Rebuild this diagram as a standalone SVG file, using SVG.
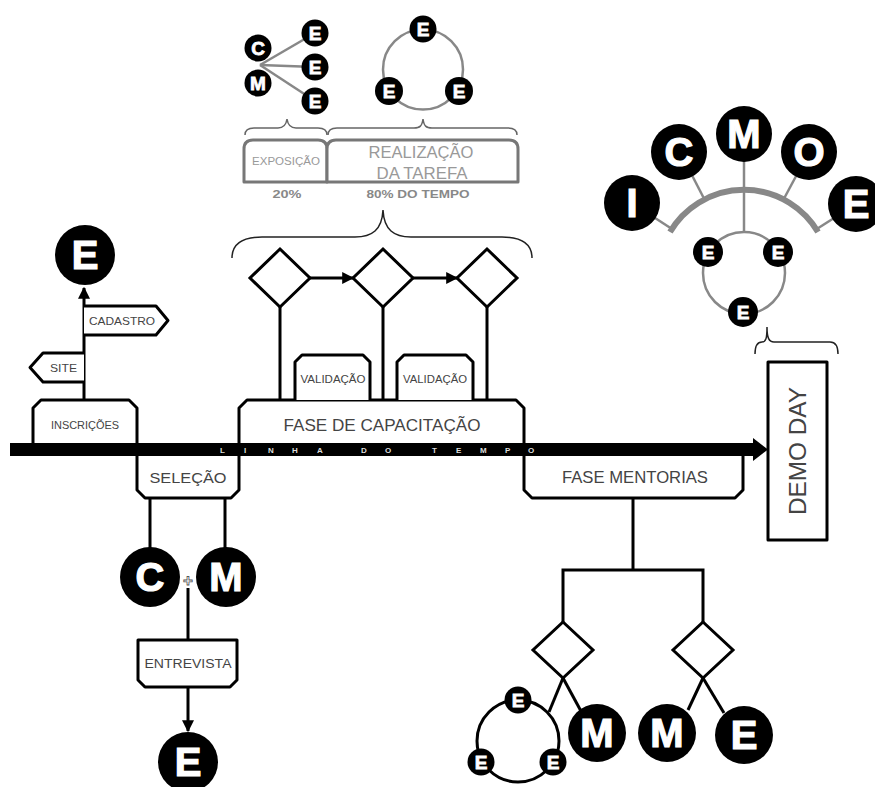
<svg xmlns="http://www.w3.org/2000/svg" width="875" height="787" viewBox="0 0 875 787">
<style>
.ln{stroke:#000;stroke-width:3;fill:none}
.gl{stroke:#888;stroke-width:2.5;fill:none}
.br{stroke:#222;stroke-width:1.5;fill:none}
.gbr{stroke:#666;stroke-width:1.5;fill:none}
.box{fill:#fff;stroke:#000;stroke-width:3;stroke-linejoin:round}
.gbox{fill:#fff;stroke:#777;stroke-width:3;stroke-linejoin:round}
.dia{fill:#fff;stroke:#000;stroke-width:3}
.bc{fill:#000}
.lt{fill:#fff;stroke:#fff;stroke-width:1.2;font-family:"Liberation Sans",Arial,sans-serif;font-weight:bold;text-anchor:middle}
.big{font-size:40px}
.sm{font-size:19px;stroke-width:0.8}
.bt{fill:#444;font-family:"Liberation Sans",Arial,sans-serif;text-anchor:middle}
.gt{fill:#999;font-family:"Liberation Sans",Arial,sans-serif;text-anchor:middle}
.pt{fill:#888;font-family:"Liberation Sans",Arial,sans-serif;font-weight:bold;text-anchor:middle}
.tl{fill:#ddd;font-family:"Liberation Sans",Arial,sans-serif;font-weight:bold;font-size:8px}
</style>
<defs>
<marker id="ah" viewBox="0 0 10 10" refX="9" refY="5" markerWidth="4" markerHeight="4" markerUnits="strokeWidth" orient="auto">
<path d="M0,0 L10,5 L0,10 Z" fill="#000"/>
</marker>
</defs>
<rect width="875" height="787" fill="#fff"/>

<g id="connectors">
<line class="gl" x1="260" y1="65" x2="315" y2="33" stroke-width="1.5"/>
<line class="gl" x1="260" y1="65" x2="315" y2="67" stroke-width="1.5"/>
<line class="gl" x1="260" y1="65" x2="315" y2="101" stroke-width="1.5"/>
<line class="gl" x1="672" y1="229" x2="632" y2="203" stroke-width="3"/>
<line class="gl" x1="704.5" y1="199.5" x2="680" y2="152" stroke-width="3"/>
<line class="gl" x1="744" y1="232" x2="744" y2="134" stroke-width="3"/>
<line class="gl" x1="783.5" y1="199.5" x2="809" y2="152" stroke-width="3"/>
<line class="gl" x1="816" y1="229.5" x2="856" y2="204" stroke-width="3"/>
<path d="M670,232 A86,86 0 0 1 818,232" stroke="#888" stroke-width="6" fill="none"/>
<line class="ln" x1="84" y1="400" x2="84" y2="288" marker-end="url(#ah)"/>
<line class="ln" x1="150" y1="498" x2="150" y2="550"/>
<line class="ln" x1="225" y1="498" x2="225" y2="550"/>
<line class="ln" x1="188" y1="588" x2="188" y2="640"/>
<line class="ln" x1="188" y1="687" x2="188" y2="731" marker-end="url(#ah)"/>
<line class="ln" x1="280" y1="307" x2="280" y2="400"/>
<line class="ln" x1="383" y1="307" x2="383" y2="400"/>
<line class="ln" x1="487" y1="307" x2="487" y2="400"/>
<line class="ln" x1="310" y1="278" x2="353" y2="278" marker-end="url(#ah)"/>
<line class="ln" x1="413" y1="278" x2="457" y2="278" marker-end="url(#ah)"/>
<polyline class="ln" points="633,498 633,570"/>
<polyline class="ln" points="563,622 563,570 703,570 703,622"/>
<line class="ln" x1="563" y1="678" x2="549" y2="712"/>
<line class="ln" x1="563" y1="678" x2="582" y2="713"/>
<line class="ln" x1="703" y1="678" x2="688" y2="710"/>
<line class="ln" x1="703" y1="678" x2="724" y2="713"/>
<path class="br" d="M232,258 C232,244 242,237 262,237 H355 C372,237 382,230 383,210 C384,230 394,237 411,237 H502 C522,237 532,244 532,258"/>
<path class="gbr" d="M245,135 C245,130 248,128 254,128 H278 C283,128 286,126 287,119 C288,126 291,128 296,128 H318 C323,128 327,130 327,135"/>
<path class="gbr" d="M328,135 C328,130 331,128 337,128 H414 C420,128 422,126 423,119 C424,126 426,128 432,128 H508 C514,128 517,130 517,135"/>
<path class="br" d="M755,354 C755,346 758,342 762,342 C766,342 767,338 767,327 C767,338 769,342 774,342 H830 C835,342 838,346 838,354"/>
</g>

<g id="inscricoes">
<path class="box" d="M33,443 V408 L41,400 H129 L137,408 V443"/>
<text class="bt" x="85" y="429" font-size="11" textLength="68" lengthAdjust="spacingAndGlyphs">INSCRIÇÕES</text>
</g>
<g id="site">
<path class="box" d="M84,353 H43 L30,367.5 L43,382 H84"/>
<text class="bt" x="63.5" y="371.5" font-size="11" textLength="27" lengthAdjust="spacingAndGlyphs">SITE</text>
</g>
<g id="cadastro">
<path class="box" d="M84,306 H156 L168,320.5 L156,335 H84"/>
<text class="bt" x="122" y="324.5" font-size="11" textLength="66" lengthAdjust="spacingAndGlyphs">CADASTRO</text>
</g>
<g id="e-cadastro">
<circle class="bc" cx="85" cy="255" r="30"/>
<text class="lt big" x="85" y="269">E</text>
</g>

<g id="selecao">
<path class="box" d="M137,443 V490 L145,498 H231 L239,490 V443"/>
<text class="bt" x="188" y="483" font-size="14" textLength="77" lengthAdjust="spacingAndGlyphs">SELEÇÃO</text>
</g>
<g id="c-selecao">
<circle class="bc" cx="150" cy="577" r="30"/>
<text class="lt big" x="150" y="591">C</text>
</g>
<g id="m-selecao">
<circle class="bc" cx="226" cy="577" r="30"/>
<text class="lt big" x="226" y="591">M</text>
</g>
<text x="188" y="586" font-family="Liberation Sans,Arial,sans-serif" font-weight="bold" font-size="17" text-anchor="middle" fill="#fff" stroke="#555" stroke-width="0.8">+</text>
<g id="entrevista">
<path class="box" d="M138,640 H237 V680 L230,687 H145 L138,680 Z"/>
<text class="bt" x="188" y="668" font-size="12.5" textLength="87" lengthAdjust="spacingAndGlyphs">ENTREVISTA</text>
</g>
<g id="e-entrevista">
<circle class="bc" cx="188" cy="762" r="30"/>
<text class="lt big" x="188" y="776">E</text>
</g>

<g id="capacitacao">
<path class="box" d="M239,456 V408 L247,400 H516 L524,408 V456"/>
<text class="bt" x="382" y="431" font-size="17" textLength="197" lengthAdjust="spacingAndGlyphs">FASE DE CAPACITAÇÃO</text>
</g>
<g id="validacao1">
<path class="box" d="M295,400 V362 L302,355 H363 L370,362 V400"/>
<text class="bt" x="333" y="383" font-size="10.5" textLength="65" lengthAdjust="spacingAndGlyphs">VALIDAÇÃO</text>
</g>
<g id="validacao2">
<path class="box" d="M397,400 V362 L404,355 H466 L473,362 V400"/>
<text class="bt" x="435" y="383" font-size="10.5" textLength="64" lengthAdjust="spacingAndGlyphs">VALIDAÇÃO</text>
</g>
<g id="d1"><polygon class="dia" points="280,249 310,278 280,307 250,278"/></g>
<g id="d2"><polygon class="dia" points="383,249 413,278 383,307 353,278"/></g>
<g id="d3"><polygon class="dia" points="487,249 517,278 487,307 457,278"/></g>

<g id="exposicao">
<path class="gbox" d="M244,182 V149 Q244,140 253,140 H318 Q327,140 327,149 V182 Z"/>
<text class="gt" x="286" y="165" font-size="10" textLength="68" lengthAdjust="spacingAndGlyphs">EXPOSIÇÃO</text>
<text class="pt" x="287" y="198" font-size="10.5" textLength="29" lengthAdjust="spacingAndGlyphs">20%</text>
</g>
<g id="realizacao">
<path class="gbox" d="M327,182 V149 Q327,140 336,140 H509 Q518,140 518,149 V182 Z"/>
<text class="gt" x="421" y="158" font-size="17" textLength="105" lengthAdjust="spacingAndGlyphs">REALIZAÇÃO</text>
<text class="gt" x="422" y="179" font-size="17" textLength="91" lengthAdjust="spacingAndGlyphs">DA TAREFA</text>
<text class="pt" x="418" y="198" font-size="10.5" textLength="103" lengthAdjust="spacingAndGlyphs">80% DO TEMPO</text>
</g>

<g id="cm-cluster">
<circle class="bc" cx="258" cy="48" r="13.5"/>
<text class="lt sm" x="258" y="55">C</text>
<circle class="bc" cx="258" cy="83" r="13.5"/>
<text class="lt sm" x="258" y="90">M</text>
<circle class="bc" cx="315" cy="33" r="13.5"/>
<text class="lt sm" x="315" y="40">E</text>
<circle class="bc" cx="315" cy="67" r="13.5"/>
<text class="lt sm" x="315" y="74">E</text>
<circle class="bc" cx="315" cy="101" r="13.5"/>
<text class="lt sm" x="315" y="108">E</text>
</g>
<g id="e-ring-top">
<circle class="gl" cx="423" cy="69.5" r="40" stroke-width="3"/>
<circle class="bc" cx="423" cy="29" r="13.5"/>
<text class="lt sm" x="423" y="36">E</text>
<circle class="bc" cx="389" cy="91" r="14"/>
<text class="lt sm" x="389" y="98">E</text>
<circle class="bc" cx="459" cy="91" r="14"/>
<text class="lt sm" x="459" y="98">E</text>
</g>

<g id="icmoe">
<circle class="bc" cx="632" cy="203" r="28"/>
<text class="lt big" x="632" y="217">I</text>
<circle class="bc" cx="679" cy="152" r="28"/>
<text class="lt big" x="679" y="166">C</text>
<circle class="bc" cx="744" cy="134" r="28"/>
<text class="lt big" x="744" y="148">M</text>
<circle class="bc" cx="809" cy="152" r="28"/>
<text class="lt big" x="809" y="166">O</text>
<circle class="bc" cx="856" cy="204" r="28"/>
<text class="lt big" x="856" y="218">E</text>
</g>
<g id="e-ring-demo">
<circle class="gl" cx="744" cy="273" r="41" stroke-width="3"/>
<circle class="bc" cx="708" cy="252" r="15"/>
<text class="lt sm" x="708" y="259">E</text>
<circle class="bc" cx="778" cy="252" r="15"/>
<text class="lt sm" x="778" y="259">E</text>
<circle class="bc" cx="743" cy="312" r="15"/>
<text class="lt sm" x="743" y="319">E</text>
</g>

<g id="demoday">
<rect class="box" x="768" y="362" width="59" height="178" stroke-linejoin="miter"/>
<text class="bt" x="0" y="0" font-size="23" textLength="128" lengthAdjust="spacingAndGlyphs" transform="translate(806,451) rotate(-90)">DEMO DAY</text>
</g>

<g id="mentorias">
<path class="box" d="M524,443 V490 L532,498 H735 L743,490 V443"/>
<text class="bt" x="635" y="483" font-size="17" textLength="146" lengthAdjust="spacingAndGlyphs">FASE MENTORIAS</text>
</g>
<g id="d4"><polygon class="dia" points="563,622 593,650 563,678 533,650"/></g>
<g id="d5"><polygon class="dia" points="703,622 733,650 703,678 673,650"/></g>
<g id="e-ring-bottom">
<circle cx="518" cy="741" r="41" fill="none" stroke="#000" stroke-width="3"/>
<circle class="bc" cx="518" cy="700" r="13.5"/>
<text class="lt sm" x="518" y="707">E</text>
<circle class="bc" cx="481" cy="762" r="13.5"/>
<text class="lt sm" x="481" y="769">E</text>
<circle class="bc" cx="553" cy="762" r="13.5"/>
<text class="lt sm" x="553" y="769">E</text>
</g>
<g id="m1">
<circle class="bc" cx="597" cy="733" r="29"/>
<text class="lt big" x="597" y="747">M</text>
</g>
<g id="m2">
<circle class="bc" cx="667" cy="733" r="29"/>
<text class="lt big" x="667" y="747">M</text>
</g>
<g id="e-mentor">
<circle class="bc" cx="744" cy="735" r="29"/>
<text class="lt big" x="744" y="749">E</text>
</g>

<g id="timeline">
<rect x="10" y="443" width="745" height="13" fill="#000"/>
<polygon points="753,438 768,449.5 753,461" fill="#000"/>
<text class="tl" x="220 244 268 292 317 339 361 385 408 432 456 480 505 528" y="452.5">LINHA DO TEMPO</text>
</g>
</svg>
